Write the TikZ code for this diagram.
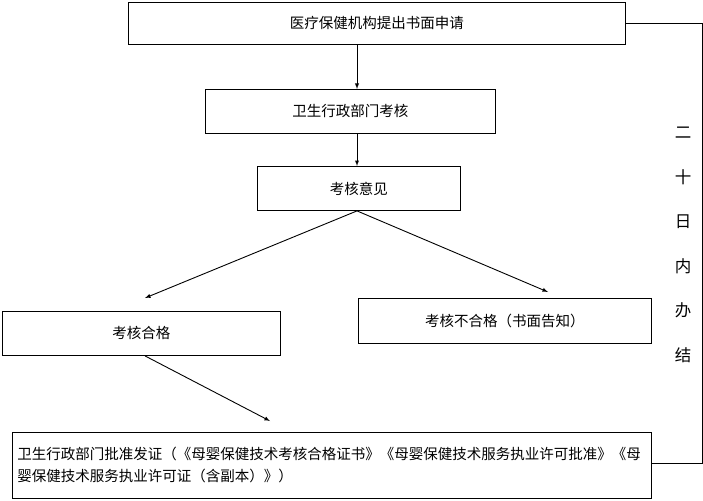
\documentclass[tikz,border=0pt]{standalone}
\usepackage{fontspec}
\newfontfamily\cjk{Noto Sans CJK SC}
\usetikzlibrary{positioning}

\begin{document}
\begin{tikzpicture}[x=1pt, y=-1pt, every node/.style={font=\cjk\fontsize{14.5}{22}\selectfont}]

  \tikzstyle{box}=[draw, line width=0.9pt, inner sep=0pt, anchor=north west]
  \tikzstyle{flow}=[-latex, line width=0.9pt]

  \useasboundingbox (0,0) rectangle (703,500);

  \node [box, minimum width=497pt, minimum height=42pt] (apply) at (128,2) {医疗保健机构提出书面申请};
  \node [box, minimum width=290pt, minimum height=44pt] (review) at (205,89) {卫生行政部门考核};
  \node [box, minimum width=203pt, minimum height=44pt] (opinion) at (257,166) {考核意见};
  \node [box, minimum width=278pt, minimum height=44pt] (pass) at (2,311) {考核合格};
  \node [box, minimum width=293pt, minimum height=45pt] (fail) at (358,298) {考核不合格（书面告知）};
  \node [box, minimum width=639pt, minimum height=66pt, align=left, text width=629pt] (issue) at (12,432)
    {卫生行政部门批准发证（《母婴保健技术考核合格证书》《母婴保健技术服务执业许可批准》《母\\
     婴保健技术服务执业许可证（含副本）》）};

  \coordinate (mid) at (357,0);
  \coordinate (pass-tip) at (145,298);
  \coordinate (fail-tip) at (548,292);
  \coordinate (issue-tip) at (270,421);
  \coordinate (corner-a) at (702,23);
  \coordinate (corner-b) at (702,463);

  \draw [flow] (apply.south -| mid) -- (review.north -| mid);
  \draw [flow] (review.south -| mid) -- (opinion.north -| mid);
  \draw [flow] (opinion.south -| mid) -- (pass-tip);
  \draw [flow] (opinion.south -| mid) -- (fail-tip);
  \draw [flow] (pass.south west -| pass-tip) -- (issue-tip);
  \draw [line width=0.9pt] (apply.east |- corner-a) -- (corner-a) -- (corner-b) -- (issue.east |- corner-b);

  \node [align=center, font=\cjk\fontsize{16.5}{44.5}\selectfont] (limit) at (683,245) {二\\十\\日\\内\\办\\结};

\end{tikzpicture}
\end{document}
